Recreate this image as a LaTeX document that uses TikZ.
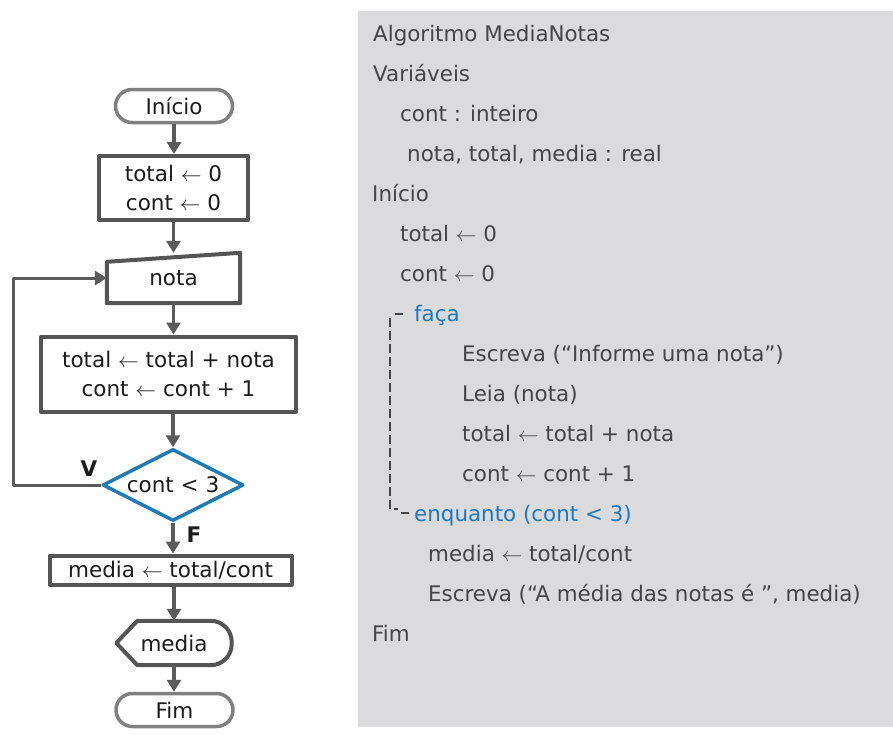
\documentclass[tikz,border=0pt]{standalone}
\usepackage{fontspec}
\setmainfont{DejaVu Sans}
\usetikzlibrary{arrows.meta,positioning,shapes.geometric,shapes.misc,calc}
\definecolor{panelgray}{HTML}{DBDADC}
\definecolor{boxgray}{HTML}{555555}
\definecolor{arrowgray}{HTML}{5B5B5B}
\definecolor{termgray}{HTML}{808080}
\definecolor{condblue}{HTML}{1F7AB8}
\definecolor{codeblue}{HTML}{1B79C4}
\definecolor{codetext}{HTML}{454545}
\definecolor{flowtext}{HTML}{1C1C1C}
\newcommand{\flowfont}{\fontsize{21.5}{29}\selectfont}
\newcommand{\codefont}{\fontsize{21.4}{25}\selectfont}
\newcommand{\recebe}{\ensuremath{\leftarrow}}

\begin{document}
\begin{tikzpicture}[x=1pt, y=-1pt, line join=round,
  flow/.style={draw=arrowgray, line width=3.8pt, -{Triangle[length=12pt,width=14pt]}},
  term node/.style={rounded rectangle, draw=termgray, line width=3.5pt, minimum width=117pt, minimum height=33pt, inner sep=0pt, font=\flowfont, text=flowtext},
  box node/.style={rectangle, draw=boxgray, line width=4pt, align=center, inner sep=0pt, font=\flowfont, text=flowtext},
  plain node/.style={inner sep=0pt, font=\flowfont, text=flowtext},
  label node/.style={inner sep=0pt, font=\flowfont\bfseries, text=flowtext},
  box line/.style={draw=boxgray, line width=4pt},
  code line/.style={anchor=base west, inner sep=0pt, font=\codefont, text=codetext},
  key line/.style={code line, text=codeblue},
  bracket/.style={draw=codetext, line width=1.2pt, dash pattern=on 9pt off 4pt}]
\useasboundingbox (0,0) rectangle (893,734);
\fill[white] (0,0) rectangle (893,734);
\fill[panelgray] (358,11) rectangle (893,727);

% fluxograma
\node[term node] (inicio) at (174,106) {Início};
\node[box node, minimum width=149pt, minimum height=64pt] (init) at (173.5,188) {total \recebe{} 0\\cont \recebe{} 0};
\node[plain node, minimum width=133pt, minimum height=50pt] (nota) at (173.5,278) {nota};
\draw[box line] (nota.south west) -- ($(nota.north west)+(0,9)$) -- (nota.north east) -- (nota.south east) -- cycle;
\node[box node, minimum width=255pt, minimum height=75pt] (soma) at (168.5,374) {total \recebe{} total + nota\\cont \recebe{} cont + 1};
\node[diamond, aspect=1.96, draw=condblue, line width=3.5pt, minimum width=141pt, minimum height=72pt, inner sep=0pt, font=\flowfont, text=flowtext] (cond) at (173,485) {cont < 3};
\node[box node, minimum width=242pt, minimum height=29pt] (media) at (170.5,570) {media \recebe{} total/cont};
\node[plain node, minimum width=115pt, minimum height=44pt] (saida) at (174,643) {media};
\draw[box line] (saida.west) -- ($(saida.north west)+(21,0)$) [rounded corners=21pt] -- (saida.north east) -- (saida.south east) [sharp corners] -- ($(saida.south west)+(21,0)$) -- cycle;
\node[term node] (fim) at (174.5,710) {Fim};
\node[label node] (v) at (89,469) {V};
\node[label node] (f) at (194,535) {F};

\draw[flow] (inicio.south) -- (inicio.south |- init.north);
\draw[flow] (init.south) -- (init.south |- nota.north);
\draw[flow] (nota.south) -- (nota.south |- soma.north);
\draw[flow] (soma.south -| cond.north) -- (cond.north);
\draw[flow] (cond.south) -- (cond.south |- media.north);
\draw[flow] (media.south -| saida.north) -- (saida.north);
\draw[flow] (saida.south) -- (saida.south |- fim.north);
\draw[flow, line width=3pt] (cond.west) -- ++(-87,0) |- (nota.west);

% algoritmo
\node[code line] (l1) at (373,41) {Algoritmo MediaNotas};
\node[code line] (l2) at (373,81) {Variáveis};
\node[code line] (l3) at (400,121) {cont : inteiro};
\node[code line] (l4) at (407,161) {nota, total, media : real};
\node[code line] (l5) at (372,201) {Início};
\node[code line] (l6) at (400,241) {total \recebe{} 0};
\node[code line] (l7) at (400,281) {cont \recebe{} 0};
\node[key line] (l8) at (414,321) {faça};
\node[code line] (l9) at (462,361) {Escreva (“Informe uma nota”)};
\node[code line] (l10) at (462,401) {Leia (nota)};
\node[code line] (l11) at (462,441) {total \recebe{} total + nota};
\node[code line] (l12) at (462,481) {cont \recebe{} cont + 1};
\node[key line] (l13) at (414,521) {enquanto (cont < 3)};
\node[code line] (l14) at (428,561) {media \recebe{} total/cont};
\node[code line] (l15) at (428,601) {Escreva (“A média das notas é ”, media)};
\node[code line] (l16) at (372,641) {Fim};
\draw[bracket] (390,318) -- (390,509) -- (398,509);
\draw[draw=codetext, line width=1.2pt] (395,314) -- (403,314);
\draw[draw=codetext, line width=1.2pt] (401,513) -- (409,513);
\end{tikzpicture}
\end{document}
